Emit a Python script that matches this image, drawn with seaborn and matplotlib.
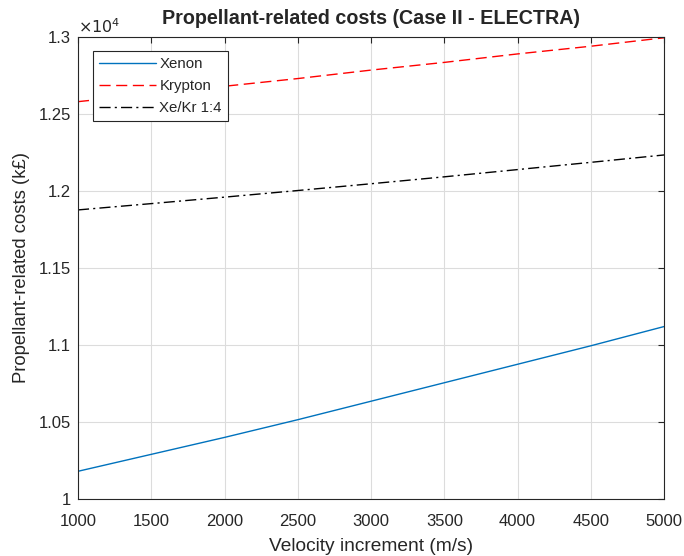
import matplotlib
matplotlib.use("Agg")
import matplotlib.pyplot as plt
import seaborn as sns
import pandas as pd
from matplotlib.ticker import FuncFormatter, FixedLocator

dv = [1000, 1500, 2000, 2500, 3000, 3500, 4000, 4500, 5000]
xenon = [10180, 10290, 10400, 10515, 10635, 10755, 10875, 10995, 11120]
krypton = [12580, 12630, 12680, 12730, 12785, 12835, 12890, 12940, 12995]
xekr = [11877, 11918, 11960, 12003, 12047, 12092, 12139, 12186, 12234]
labels = ["Xenon", "Krypton", "Xe/Kr 1:4"]
yticks = [10000, 10500, 11000, 11500, 12000, 12500, 13000]
xticks = [1000, 1500, 2000, 2500, 3000, 3500, 4000, 4500, 5000]

sns.set_style("white")
plt.rcParams['font.family'] = ['Liberation Sans', 'DejaVu Sans']

fig = plt.figure(figsize=(6.84, 5.56), dpi=100)
ax = fig.add_axes([0.114, 0.1025, 0.857, 0.831])

styles = [dict(color="#0072BD", linestyle="-", lw=1.0),
          dict(color="#FF0000", linestyle=(0, (8, 4)), lw=1.0),
          dict(color="#000000", linestyle=(0, (8, 3, 1.5, 3)), lw=1.0)]
for ys, lab, st in zip([xenon, krypton, xekr], labels, styles):
    df = pd.DataFrame({"x": dv, "y": ys})
    sns.lineplot(data=df, x="x", y="y", ax=ax, label=lab, **st)

ax.set_xlim(1000, 5000)
ax.set_ylim(10000, 13000)
ax.xaxis.set_major_locator(FixedLocator(xticks))
ax.yaxis.set_major_locator(FixedLocator(yticks))
ax.yaxis.set_major_formatter(FuncFormatter(lambda v, p: f"{v/1e4:g}"))
ax.grid(True, color="#dcdcdc", lw=0.8)
ax.tick_params(direction="in", top=True, right=True, length=4, width=0.8,
               labelsize=12, colors="#262626")
ax.tick_params(axis="x", pad=11)
ax.tick_params(axis="y", pad=5)
for s in ax.spines.values():
    s.set_color("#262626")
    s.set_linewidth(0.8)
ax.set_xlabel("Velocity increment (m/s)", fontsize=13.8, color="#262626", labelpad=6)
ax.set_ylabel("Propellant-related costs (k£)", fontsize=13.3, color="#262626", labelpad=6)
ax.set_title("Propellant-related costs (Case II - ELECTRA)", fontsize=14.2,
             fontweight="bold", pad=9)
ax.text(0.0, 1.003, r"$\times10^{4}$", transform=ax.transAxes, fontsize=11.5,
        color="#262626", va="bottom", ha="left")
leg = ax.legend(loc="upper left", bbox_to_anchor=(0.025, 0.97), fontsize=10.8,
                fancybox=False, edgecolor="#262626", framealpha=1,
                handlelength=3.8, borderpad=0.4, labelspacing=0.55, handletextpad=0.25,
                borderaxespad=0)
leg.get_frame().set_linewidth(0.8)

fig.savefig("out.png", dpi=100)
